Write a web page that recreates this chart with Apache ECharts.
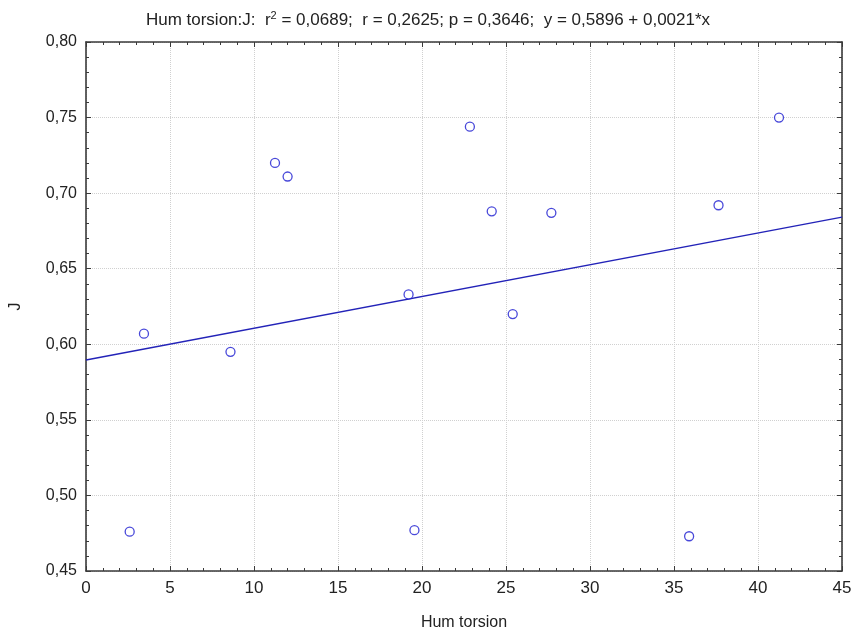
<!DOCTYPE html>
<html>
<head>
<meta charset="utf-8">
<script src="https://cdn.jsdelivr.net/npm/echarts@6/dist/echarts.min.js"></script>
<style>
html,body{margin:0;padding:0;background:#fff;}
#chart{width:856px;height:636px;}
</style>
</head>
<body>
<div id="chart"></div>
<script>
// Hum torsion vs J
let humTorsion=[2.6,3.45,8.6,11.25,12.0,19.2,19.55,22.85,24.15,25.4,27.7,35.9,37.65,41.25];
let jValues=[0.476,0.607,0.595,0.720,0.711,0.633,0.477,0.744,0.688,0.620,0.687,0.473,0.692,0.750];
let fitIntercept=0.5896;
let fitSlope=0.0021;
let fitRange=[0,45];

let font="'Liberation Sans Narrow','Liberation Sans',Arial,sans-serif";
let fmt=function(v){return v.toFixed(2).replace('.',',');};

let fitLine=fitRange.map(function(x){return [x,fitIntercept+fitSlope*x];});

let chart=echarts.init(document.getElementById('chart'));

let axisCommon={
	axisLine:{show:true,onZero:false,lineStyle:{color:'#3a3a3a',width:1.6}},
	axisTick:{show:true,inside:true,length:5,lineStyle:{color:'#3a3a3a'}},
	minorTick:{show:true,splitNumber:5,length:3,lineStyle:{color:'#3a3a3a'}},
};

chart.setOption({
	animation:false,
	title:{
		text:'Hum torsion:J:  r{sup|2} = 0,0689;  r = 0,2625; p = 0,3646;  y = 0,5896 + 0,0021*x',
		left:'center',
		top:5,
		textStyle:{
			fontFamily:font,fontSize:17,fontWeight:'normal',color:'#222',
			rich:{sup:{fontFamily:font,fontSize:11,color:'#222',verticalAlign:'top',padding:[0,0,9,0]}},
		},
	},
	grid:{left:85,right:14,top:42,bottom:64},
	xAxis:[
		Object.assign({
			type:'value',min:0,max:45,interval:5,position:'bottom',
			name:'Hum torsion',nameLocation:'middle',nameGap:44,
			nameTextStyle:{fontFamily:font,fontSize:16,color:'#222'},
			axisLabel:{fontFamily:font,fontSize:17,color:'#222',margin:9},
			splitLine:{show:true,lineStyle:{color:'#d0d0d0',type:'dotted'}},
		},axisCommon),
		Object.assign({
			type:'value',min:0,max:45,interval:5,position:'top',
			axisLabel:{show:false},splitLine:{show:false},
		},axisCommon),
	],
	yAxis:[
		Object.assign({
			type:'value',min:0.45,max:0.80,interval:0.05,position:'left',
			name:'J',nameLocation:'middle',nameGap:62,
			nameTextStyle:{fontFamily:font,fontSize:16,color:'#222'},
			axisLabel:{fontFamily:font,fontSize:16,color:'#222',margin:9,formatter:fmt},
			splitLine:{show:true,lineStyle:{color:'#d0d0d0',type:'dotted'}},
		},axisCommon),
		Object.assign({
			type:'value',min:0.45,max:0.80,interval:0.05,position:'right',
			axisLabel:{show:false},splitLine:{show:false},
		},axisCommon),
	],
	series:[
		{
			type:'line',
			data:fitLine,
			showSymbol:false,
			symbol:'none',
			lineStyle:{color:'#2323b8',width:1.3},
			z:2,
		},
		{
			type:'scatter',
			data:humTorsion.map(function(x,i){return [x,jValues[i]];}),
			symbol:'circle',
			symbolSize:9,
			itemStyle:{color:'#fff',borderColor:'#1a1ad0',borderWidth:1.3},
			z:3,
		},
	],
});
</script>
</body>
</html>
